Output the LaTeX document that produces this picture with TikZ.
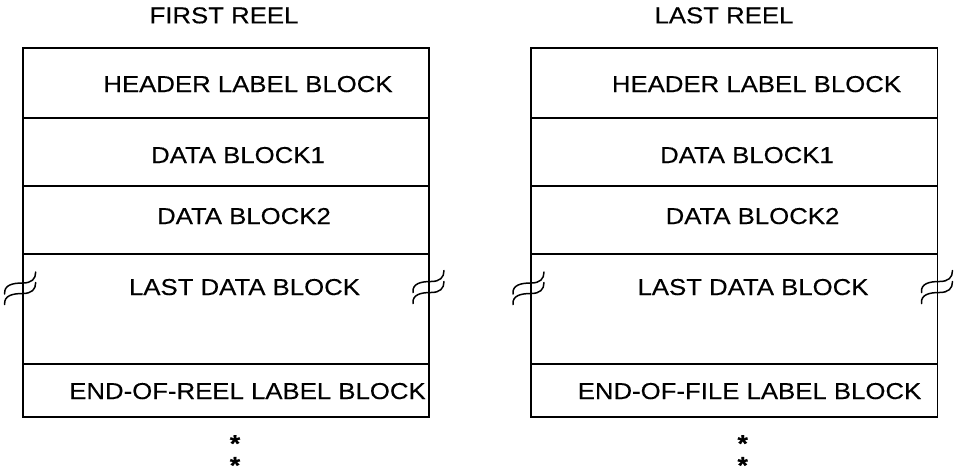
\documentclass[tikz,border=0pt]{standalone}
\usepackage{fontspec}
\setmainfont{Liberation Sans}[FakeStretch=1.12,FakeBold=0.3]
\begin{document}
\begin{tikzpicture}[x=1pt,y=-1pt]
\tikzset{
  frame/.style={line width=1.8pt, line cap=rect},
  brkline/.style={line width=1.5pt, line cap=round},
  lbl/.style={anchor=base, inner sep=0pt, font=\fontsize{23}{27}\selectfont},
  astx/.style={anchor=base, inner sep=0pt, font=\fontsize{24}{26}\selectfont\bfseries},
  brk/.pic={\draw[brkline] (-18,11) .. controls (-19,2) and (-10,0) .. (0,0)
                 .. controls (9,0) and (13,-4) .. (13,-11);}
}
\useasboundingbox (0,0) rectangle (955,474);
\fill[white] (0,0) rectangle (955,474);

% ---- first reel ----
\draw[frame] (22.7,47.7) rectangle (429,417.3);
\draw[frame] (22.7,118.3) -- (429,118.3);
\draw[frame] (22.7,185.7) -- (429,185.7);
\draw[frame] (22.7,254.3) -- (429,254.3);
\draw[frame] (22.7,364.3) -- (429,364.3);
\pic at (22.7,283) {brk};
\pic at (22.7,293.5) {brk};
\pic at (431,281.5) {brk};
\pic at (431,292.5) {brk};

\node[lbl] (t1)  at (224,23.3)  {FIRST REEL};
\node[lbl] (h1)  at (248,92)    {HEADER LABEL BLOCK};
\node[lbl] (d11) at (238,163)   {DATA BLOCK1};
\node[lbl] (d12) at (244,224)   {DATA BLOCK2};
\node[lbl] (l1)  at (244.5,295) {LAST DATA BLOCK};
\node[lbl] (e1)  at (247.5,399) {END-OF-REEL LABEL BLOCK};
\node[astx] (s11) at (235,440.7) {\raisebox{-0.46em}[0pt][0pt]{*}};
\node[astx] (s12) at (235,462.5) {\raisebox{-0.46em}[0pt][0pt]{*}};

% ---- last reel ----
\draw[frame] (531,47.7) rectangle (937.5,417.3);
\draw[frame] (531,118.3) -- (937.5,118.3);
\draw[frame] (531,185.7) -- (937.5,185.7);
\draw[frame] (531,254.3) -- (937.5,254.3);
\draw[frame] (531,364.3) -- (937.5,364.3);
\pic at (531,283) {brk};
\pic at (531,293.5) {brk};
\pic at (939.5,281.5) {brk};
\pic at (939.5,292.5) {brk};

\node[lbl] (t2)  at (724,23.3)  {LAST REEL};
\node[lbl] (h2)  at (756.5,92)  {HEADER LABEL BLOCK};
\node[lbl] (d21) at (747,163)   {DATA BLOCK1};
\node[lbl] (d22) at (752.5,224) {DATA BLOCK2};
\node[lbl] (l2)  at (753,295)   {LAST DATA BLOCK};
\node[lbl] (e2)  at (749.5,399) {END-OF-FILE LABEL BLOCK};
\node[astx] (s21) at (742.7,440.7) {\raisebox{-0.46em}[0pt][0pt]{*}};
\node[astx] (s22) at (742.7,462.5) {\raisebox{-0.46em}[0pt][0pt]{*}};
\end{tikzpicture}
\end{document}
